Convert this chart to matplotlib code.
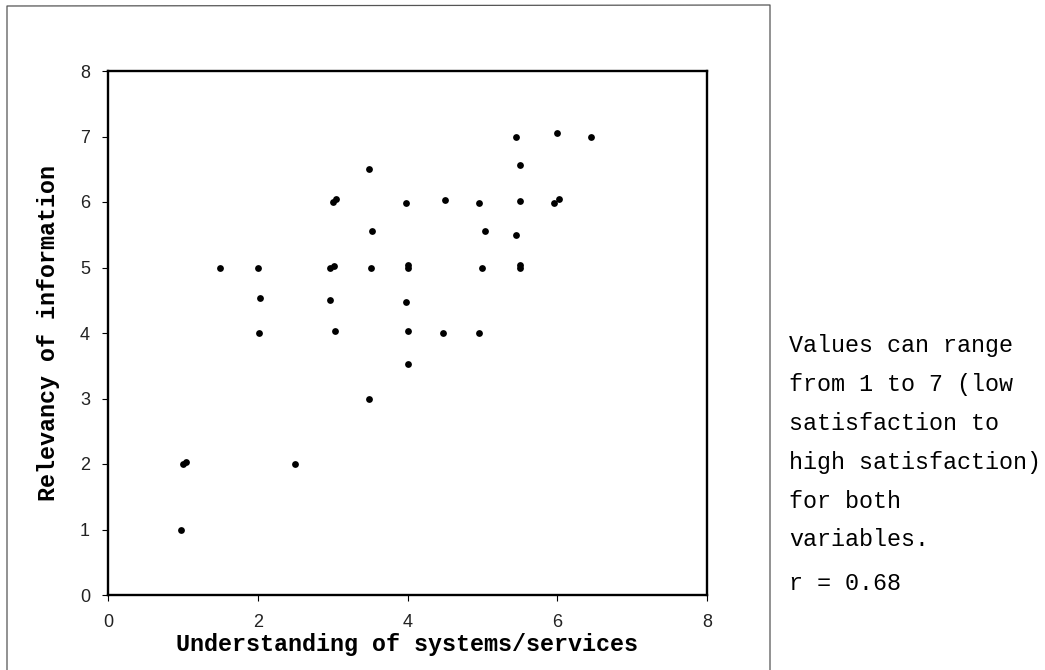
import matplotlib
matplotlib.use('Agg')
import matplotlib.pyplot as plt
from matplotlib.lines import Line2D

#Scores (x = understanding, y = relevancy).
understanding = [0.97, 1.0, 1.04, 1.5, 2.0, 2.03, 2.02, 2.5,
                 2.97, 3.02, 2.97, 3.03, 3.0, 3.04,
                 3.48, 3.53, 3.51, 3.48,
                 3.98, 4.0, 4.0, 3.98, 4.0, 4.01,
                 4.5, 4.48,
                 4.95, 5.03, 5.0, 4.95,
                 5.45, 5.5, 5.5, 5.45, 5.5, 5.5,
                 5.95, 6.02, 6.0, 6.45]
relevancy = [1.0, 2.0, 2.03, 5.0, 5.0, 4.53, 4.0, 2.0,
             5.0, 5.02, 4.5, 4.03, 6.0, 6.05,
             6.5, 5.55, 5.0, 3.0,
             5.98, 5.0, 5.04, 4.48, 4.03, 3.52,
             6.03, 4.0,
             5.98, 5.55, 5.0, 4.0,
             7.0, 6.56, 6.02, 5.5, 5.0, 5.04,
             5.98, 6.05, 7.05, 7.0]
ticks = [0, 2, 4, 6, 8]
yticks = [0, 1, 2, 3, 4, 5, 6, 7, 8]
note_lines = ["Values can range", "from 1 to 7 (low", "satisfaction to",
              "high satisfaction)", "for both", "variables."]
r_text = "r = 0.68"

W, H = 1045, 670
fig = plt.figure(figsize=(W / 100, H / 100), dpi=100)
ax = fig.add_axes([108 / W, 1 - 595 / H, (707 - 108) / W, (595 - 71) / H])

ax.scatter(understanding, relevancy, s=24, color='black', linewidths=0, zorder=3)

#Format plot.
ax.set_xlim(0, 8)
ax.set_ylim(0, 8)
ax.set_xticks(ticks)
ax.set_yticks(yticks)
for spine in ax.spines.values():
    spine.set_linewidth(1.7)
    spine.set_color('black')
ax.tick_params(direction='out', length=4, width=0.8, color='black')
ax.tick_params(axis='x', pad=10)
ax.tick_params(axis='y', pad=9)
for lab in ax.get_xticklabels() + ax.get_yticklabels():
    lab.set_fontfamily('Liberation Sans')
    lab.set_fontsize(13)
    lab.set_color('#222222')

mono = 'Liberation Mono'
ax.set_xlabel("Understanding of systems/services", fontsize=16.8,
              fontfamily=mono, fontweight='bold', labelpad=1)
ax.set_ylabel("Relevancy of information", fontsize=16.8,
              fontfamily=mono, fontweight='bold', labelpad=14)

#Side note.
y0 = 345
step = 39
for i, line in enumerate(note_lines):
    fig.text(789 / W, 1 - (y0 + i * step) / H, line, fontsize=16.8,
             fontfamily=mono, va='center', ha='left')
fig.text(789 / W, 1 - 584 / H, r_text, fontsize=16.8,
         fontfamily=mono, va='center', ha='left')

#Outer frame (open at the bottom).
fx = [7 / W, 7 / W, 770 / W, 770 / W]
fy = [0, 1 - 6 / H, 1 - 5 / H, 0]
fig.add_artist(Line2D(fx, fy, transform=fig.transFigure, color='#555555', lw=0.9))

fig.savefig('out.png', dpi=100)
